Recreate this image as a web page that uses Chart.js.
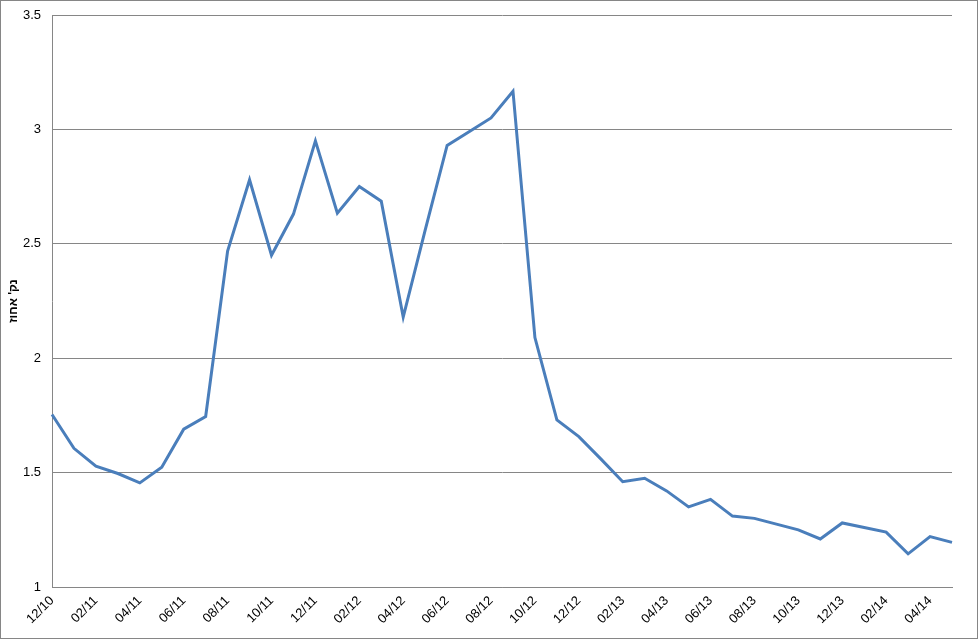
<!DOCTYPE html>
<html>
<head>
<meta charset="utf-8">
<script src="https://cdn.jsdelivr.net/npm/chart.js@4"></script>
<style>
html,body{margin:0;padding:0;background:#fff;}
canvas{display:block;}
</style>
</head>
<body>
<canvas id="c" width="978" height="639"></canvas>
<script>
const categories = [
  "12/10","01/11","02/11","03/11","04/11","05/11","06/11","07/11","08/11","09/11","10/11","11/11",
  "12/11","01/12","02/12","03/12","04/12","05/12","06/12","07/12","08/12","09/12","10/12","11/12",
  "12/12","01/13","02/13","03/13","04/13","05/13","06/13","07/13","08/13","09/13","10/13","11/13",
  "12/13","01/14","02/14","03/14","04/14","05/14"
];
const values = [
  1.754,1.606,1.528,1.496,1.455,1.523,1.69,1.745,2.468,2.78,2.45,2.63,
  2.95,2.634,2.75,2.686,2.18,2.56,2.93,2.99,3.05,3.167,2.09,1.73,
  1.657,1.56,1.46,1.475,1.42,1.35,1.383,1.31,1.30,1.275,1.25,1.21,
  1.28,1.26,1.24,1.145,1.22,1.195
];
const yTicks = [1, 1.5, 2, 2.5, 3, 3.5];
const yTitle = "נק' אחוז";

const borderPlugin = {
  id: 'outerBorder',
  afterDraw(chart) {
    const ctx = chart.ctx;
    ctx.save();
    ctx.strokeStyle = '#868686';
    ctx.lineWidth = 1;
    ctx.strokeRect(0.5, 0.5, chart.width - 1, chart.height - 1);
    ctx.restore();
  }
};

new Chart(document.getElementById('c'), {
  type: 'line',
  data: {
    labels: categories,
    datasets: [{
      data: values,
      borderColor: '#4a7ebb',
      borderWidth: 3,
      pointRadius: 0,
      tension: 0,
      fill: false
    }]
  },
  options: {
    responsive: false,
    animation: false,
    devicePixelRatio: 1,
    layout: { padding: { top: 15, right: 26, left: 0, bottom: 0 } },
    plugins: { legend: { display: false }, tooltip: { enabled: false } },
    scales: {
      x: {
        type: 'category',
        offset: false,
        grid: { display: false, drawTicks: false },
        border: { display: true, color: '#868686', width: 1 },
        ticks: {
          autoSkip: false,
          maxRotation: 45,
          minRotation: 45,
          padding: 6,
          color: '#000',
          font: { family: 'Liberation Sans, Arial', size: 13 },
          callback: function(v, i) { return i % 2 === 0 ? categories[i] : ''; }
        },
        afterFit(scale) { scale.height = 639 - 586 - 1; }
      },
      y: {
        min: 1,
        max: 3.5,
        afterBuildTicks(scale) { scale.ticks = yTicks.map(v => ({ value: v })); },
        grid: { color: '#868686', drawTicks: false, lineWidth: 1 },
        border: { display: true, color: '#868686', width: 1 },
        ticks: {
          padding: 11,
          color: '#000',
          font: { family: 'Liberation Sans, Arial', size: 13 },
          callback: v => String(v)
        },
        title: {
          display: true,
          text: yTitle,
          color: '#000',
          font: { family: 'Liberation Sans, Arial', size: 12, weight: 'bold' },
          padding: { top: 6, bottom: 0 }
        },
        afterFit(scale) { scale.width = 52; scale.paddingTop = 0; scale.paddingBottom = 0; }
      }
    }
  },
  plugins: [borderPlugin]
});
</script>
</body>
</html>
